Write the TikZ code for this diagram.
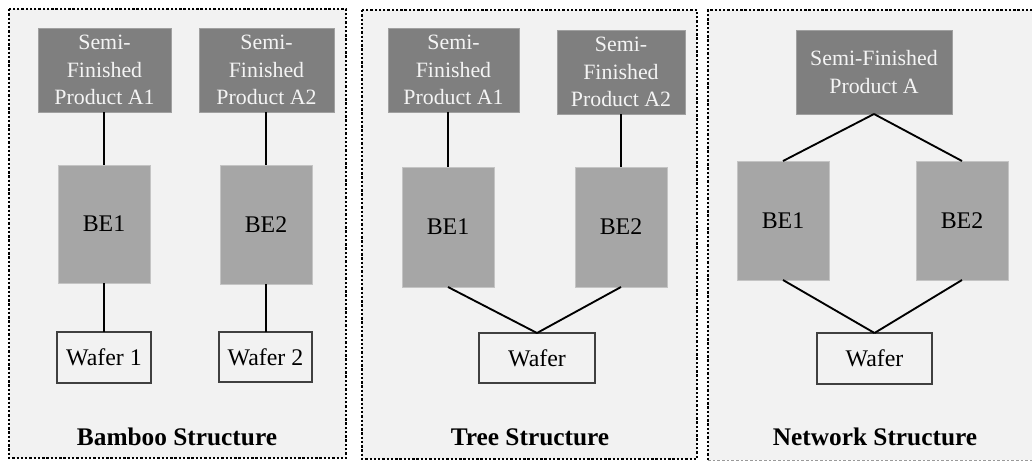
\documentclass[tikz,border=0pt]{standalone}
\usepackage{fontspec}
\setmainfont{Liberation Serif}
\definecolor{panelbg}{HTML}{F2F2F2}
\definecolor{sfgray}{HTML}{7F7F7F}
\definecolor{sfedge}{HTML}{A0A0A0}
\definecolor{begray}{HTML}{A6A6A6}
\definecolor{beedge}{HTML}{C4C4C4}
\definecolor{waferline}{HTML}{404040}
\definecolor{sftext}{HTML}{F4F4F4}
\tikzset{
  sz/.style 2 args={minimum width=#1*0.75pt, minimum height=#2*0.75pt},
  sfbox/.style={fill=sfgray, draw=sfedge, line width=0.6pt, text=sftext, align=center,
    inner sep=0pt, outer sep=0pt, font=\fontsize{16.4}{20.6}\selectfont},
  bebox/.style={fill=begray, draw=beedge, line width=0.6pt, text=black, inner sep=0pt, outer sep=0pt,
    font=\fontsize{17.9}{21}\selectfont},
  waferbox/.style={fill=panelbg, draw=waferline, line width=1.3pt, text=black, inner sep=0pt, outer sep=0pt,
    font=\fontsize{17.9}{21}\selectfont},
  paneltitle/.style={font=\fontsize{19}{22}\selectfont\bfseries, text=black, inner sep=0pt},
  panelframe/.style={fill=panelbg, draw=black, line width=1.8pt, dash pattern=on 1.8pt off 1.4pt},
  link/.style={draw=black, line width=1.4pt},
}
\begin{document}
\begin{tikzpicture}[x=0.75pt, y=-0.75pt]
\useasboundingbox (0,0) rectangle (1032,461);
% panels
\path[panelframe] (9,9) rectangle (346,458);
\path[panelframe] (362,10) rectangle (697,459);
\fill[panelbg] (708,10) rectangle (1032,460);
\draw[black, line width=1.8pt, dash pattern=on 1.8pt off 1.4pt] (708,460) -- (708,10) -- (1032,10);
\draw[black!40, line width=0.6pt, dash pattern=on 2pt off 1.5pt] (708,460) -- (1032,460);

% Panel 1: Bamboo
\node[sfbox, sz={133}{84}] (p1sa1) at (104.5,70) {Semi-\\Finished\\Product A1};
\node[sfbox, sz={135}{84}] (p1sa2) at (266.5,70) {Semi-\\Finished\\Product A2};
\node[bebox, sz={92}{118}] (p1be1) at (104,224) {BE1};
\node[bebox, sz={92}{119}] (p1be2) at (266,224.5) {BE2};
\node[waferbox, sz={94}{51}] (p1w1) at (104,357.5) {Wafer 1};
\node[waferbox, sz={93}{50}] (p1w2) at (265.5,357) {Wafer 2};
\node[paneltitle] (p1t) at (177,437) {Bamboo Structure};
\draw[link] (p1be1.north |- p1sa1.south) -- (p1be1.north);
\draw[link] (p1be2.north |- p1sa2.south) -- (p1be2.north);
\draw[link] (p1be1.south) -- (p1be1.south |- p1w1.north);
\draw[link] (p1be2.south) -- (p1be2.south |- p1w2.north);

% Panel 2: Tree
\node[sfbox, sz={131}{84}] (p2sa1) at (453.5,70) {Semi-\\Finished\\Product A1};
\node[sfbox, sz={128}{84}] (p2sa2) at (621,72) {Semi-\\Finished\\Product A2};
\node[bebox, sz={92}{120}] (p2be1) at (448,227) {BE1};
\node[bebox, sz={92}{120}] (p2be2) at (621,227) {BE2};
\node[waferbox, sz={116}{50}] (p2w) at (537,358) {Wafer};
\node[paneltitle] (p2t) at (530,437) {Tree Structure};
\draw[link] (p2be1.north |- p2sa1.south) -- (p2be1.north);
\draw[link] (p2sa2.south) -- (p2sa2.south |- p2be2.north);
\draw[link] (p2be1.south) -- (p2w.north);
\draw[link] (p2be2.south) -- (p2w.north);

% Panel 3: Network
\node[sfbox, sz={156}{84}] (p3sa) at (874,72) {Semi-Finished\\Product A};
\node[bebox, sz={92}{119}] (p3be1) at (783,220.5) {BE1};
\node[bebox, sz={92}{119}] (p3be2) at (962,220.5) {BE2};
\node[waferbox, sz={115}{51}] (p3w) at (874.5,358.5) {Wafer};
\node[paneltitle] (p3t) at (875,437) {Network Structure};
\draw[link] (p3sa.south) -- (p3be1.north);
\draw[link] (p3sa.south) -- (p3be2.north);
\draw[link] (p3be1.south) -- (p3w.north);
\draw[link] (p3be2.south) -- (p3w.north);
\end{tikzpicture}
\end{document}
